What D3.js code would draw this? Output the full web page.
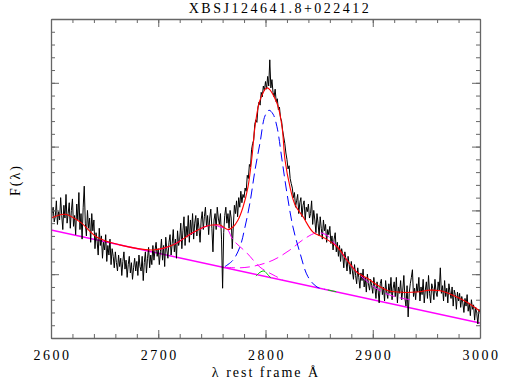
<!DOCTYPE html>
<html>
<head>
<meta charset="utf-8">
<script src="https://cdn.jsdelivr.net/npm/d3@7"></script>
<style>
  body { margin: 0; background: #fff; }
  text { font-family: "Liberation Serif", "DejaVu Serif", serif; fill: #000; }
</style>
</head>
<body>
<svg id="chart" width="510" height="382"></svg>
<script>
// observed spectrum, one value per A from 2600 to 3000
const fluxObs = [
  1.75, 1.95, 2.05, 1.82, 1.90, 2.15, 1.78, 1.98, 1.85, 2.20, 1.92, 1.70, 2.08, 1.88, 2.25, 1.80, 1.95, 2.12, 1.72, 2.00,
  2.18, 1.75, 1.92, 1.62, 2.10, 1.85, 2.28, 1.70, 1.95, 1.55, 2.05, 2.38, 1.80, 1.60, 2.00, 1.72, 1.88, 1.50, 1.95, 1.68,
  1.85, 1.40, 1.65, 1.52, 1.30, 1.72, 1.45, 1.60, 1.25, 1.50, 1.38, 1.62, 1.20, 1.45, 1.30, 1.55, 1.15, 1.40, 1.28, 1.10,
  1.35, 1.18, 1.05, 1.30, 1.12, 1.25, 0.98, 1.20, 1.35, 1.08, 1.22, 0.95, 1.15, 1.28, 1.02, 1.18, 0.92, 1.10, 1.25, 1.05,
  1.20, 0.98, 1.30, 1.12, 1.05, 1.28, 0.90, 1.18, 1.35, 1.02, 1.25, 1.42, 1.10, 1.30, 1.15, 1.45, 1.22, 1.38, 1.50, 1.28,
  1.40, 1.15, 1.35, 1.55, 1.22, 1.45, 1.12, 1.58, 1.38, 1.25, 1.50, 1.62, 1.30, 1.48, 1.70, 1.35, 1.55, 1.25, 1.68, 1.45,
  1.55, 1.80, 1.40, 1.68, 1.90, 1.45, 1.75, 1.58, 1.92, 1.50, 1.85, 1.62, 1.95, 1.55, 1.80, 1.92, 1.60, 1.88, 1.72, 1.50,
  1.85, 1.98, 1.70, 1.90, 2.05, 1.75, 1.92, 1.62, 1.88, 2.02, 1.72, 1.35, 1.85, 1.95, 1.70, 2.05, 1.88, 1.78, 1.95, 1.55,
  0.78, 1.65, 1.92, 2.05, 1.80, 1.95, 1.72, 2.00, 1.88, 1.40, 1.75, 2.08, 1.95, 2.15, 1.90, 2.20, 2.05, 2.30, 2.12, 2.25,
  2.20, 2.35, 2.30, 2.55, 2.50, 2.72, 2.68, 2.95, 3.05, 3.10, 3.35, 3.42, 3.38, 3.62, 3.70, 3.65, 3.85, 3.78, 3.95, 3.88,
  4.02, 3.90, 4.10, 3.95, 4.36, 3.92, 4.05, 3.85, 3.78, 3.90, 3.70, 3.75, 3.58, 3.62, 3.45, 3.40, 3.25, 3.15, 3.05, 2.90,
  2.80, 2.65, 2.70, 2.50, 2.42, 2.35, 2.20, 2.28, 2.05, 2.15, 2.25, 1.95, 2.12, 2.20, 1.90, 2.08, 2.15, 1.85, 2.05, 1.98,
  2.10, 1.88, 1.95, 2.15, 1.78, 2.00, 1.85, 1.65, 1.95, 1.80, 1.60, 1.90, 1.72, 1.55, 1.85, 1.68, 1.78, 1.50, 1.70, 1.62,
  1.75, 1.48, 1.60, 1.38, 1.55, 1.65, 1.35, 1.50, 1.28, 1.45, 1.20, 1.40, 1.30, 1.10, 1.35, 1.22, 1.05, 1.28, 1.15, 1.00,
  1.20, 1.05, 0.92, 1.15, 0.98, 0.85, 1.10, 0.95, 0.78, 1.02, 0.90, 1.08, 0.80, 0.95, 0.72, 1.00, 0.85, 0.75, 0.92, 0.82,
  0.70, 0.95, 0.80, 0.62, 0.88, 0.75, 0.55, 0.85, 0.92, 0.68, 0.80, 0.58, 0.90, 0.72, 0.62, 0.85, 0.70, 0.95, 0.60, 0.78,
  0.88, 0.65, 0.95, 0.55, 0.80, 0.70, 0.90, 0.60, 0.75, 0.98, 0.62, 0.50, 0.82, 0.33, 0.70, 0.85, 0.95, 1.07, 0.65, 0.78,
  0.60, 0.85, 0.72, 0.95, 0.58, 0.80, 0.68, 0.92, 0.55, 0.75, 0.88, 0.62, 0.98, 0.70, 0.55, 0.85, 0.78, 0.60, 0.92, 0.72,
  0.65, 0.88, 0.75, 1.10, 0.70, 0.82, 0.58, 0.90, 0.65, 0.78, 0.55, 0.85, 0.72, 0.62, 0.80, 0.50, 0.75, 0.68, 0.45, 0.72,
  0.58, 0.70, 0.48, 0.65, 0.55, 0.40, 0.62, 0.50, 0.68, 0.42, 0.55, 0.35, 0.60, 0.45, 0.52, 0.28, 0.48, 0.38, 0.22, 0.45,
  0.40
];
const obsWave = d3.range(2600, 3001, 1);

// fit components, [wavelength, flux]
const totalFit = [
  [2600, 1.88], [2613, 1.94], [2627, 1.82], [2643, 1.58], [2664, 1.46],
  [2695, 1.38], [2714, 1.46], [2732, 1.65], [2745.5, 1.755], [2750, 1.77],
  [2757.6, 1.77], [2765, 1.70], [2769.7, 1.74], [2774.4, 1.85], [2779, 2.05],
  [2783.7, 2.37], [2787.4, 2.84], [2790.2, 3.31], [2794.9, 3.73], [2801.4, 3.92],
  [2810.7, 3.68], [2815.4, 3.31], [2818.2, 2.79], [2822.8, 2.37], [2827.5, 2.09],
  [2835, 1.90], [2844.3, 1.66], [2853.6, 1.58], [2866.7, 1.43], [2876, 1.22],
  [2885.3, 1.03], [2894.6, 0.94], [2904, 0.83], [2913.3, 0.75], [2922.6, 0.72],
  [2941.3, 0.72], [2953.4, 0.75], [2962.7, 0.74], [2974.8, 0.67], [2987.9, 0.56],
  [3000, 0.42]
];
const broadLine = [
  [2762.2, 1.12], [2769.7, 1.22], [2776.2, 1.43], [2780.9, 1.74], [2785.5, 2.12],
  [2790.2, 2.63], [2794.9, 3.06], [2799.5, 3.48], [2803.3, 3.57], [2807, 3.51],
  [2810.7, 3.31], [2815.4, 2.79], [2820, 2.27], [2825.6, 1.74], [2832.2, 1.33],
  [2839.6, 0.96], [2848, 0.80], [2855.5, 0.765]
];
const feLeft = [
  [2701.6, 1.39], [2713.8, 1.46], [2732.4, 1.65], [2745.5, 1.755], [2752.9, 1.77],
  [2757.6, 1.74], [2764.1, 1.71], [2769.7, 1.54], [2782.8, 1.33], [2794.9, 1.11],
  [2807, 0.99], [2816.3, 0.91]
];
const feRight = [
  [2762.2, 1.11], [2776.2, 1.10], [2790.2, 1.13], [2807, 1.22], [2822.8, 1.38],
  [2835, 1.54], [2848, 1.65], [2857.3, 1.61], [2866.7, 1.43], [2876, 1.22],
  [2885.3, 1.03], [2894.6, 0.89], [2904, 0.77], [2913.3, 0.69], [2922.6, 0.64],
  [2934.7, 0.60]
];
const narrowBits = [
  [[2791.1, 0.97], [2794.9, 1.03], [2798.6, 1.05], [2802.3, 0.99], [2805.1, 0.94]],
  [[2858, 0.753], [2866, 0.725]]
];
const continuum = [[2600, 1.693], [3000, 0.235]];

const xTicks = [2600, 2700, 2800, 2900, 3000];

const svg = d3.select("#chart");
const plotLeft = 51, plotRight = 480, plotTop = 19, plotBottom = 338;

const x = d3.scaleLinear().domain([2600, 3000]).range([plotLeft, plotRight]);
const y = d3.scaleLinear().domain([0, 5]).range([plotBottom, plotTop]);

svg.append("clipPath").attr("id", "clip")
    .append("rect")
    .attr("x", plotLeft).attr("y", plotTop)
    .attr("width", plotRight - plotLeft).attr("height", plotBottom - plotTop);

const plot = svg.append("g").attr("clip-path", "url(#clip)");

const line = d3.line().x(d => x(d[0])).y(d => y(d[1]));
const smooth = d3.line().x(d => x(d[0])).y(d => y(d[1])).curve(d3.curveCatmullRom.alpha(0.5));

plot.append("path")
    .attr("d", line(continuum))
    .attr("fill", "none")
    .attr("stroke", "#ff00ff")
    .attr("stroke-width", 1.5);

plot.append("path")
    .attr("d", line(obsWave.map((w, i) => [w, fluxObs[i]])))
    .attr("fill", "none")
    .attr("stroke", "#000")
    .attr("stroke-width", 1);

[feLeft, feRight].forEach(c => {
    plot.append("path")
        .attr("d", smooth(c))
        .attr("fill", "none")
        .attr("stroke", "#ff00ff")
        .attr("stroke-width", 1)
        .attr("stroke-dasharray", "10,5");
});

plot.append("path")
    .attr("d", smooth(broadLine))
    .attr("fill", "none")
    .attr("stroke", "#0000ff")
    .attr("stroke-width", 1)
    .attr("stroke-dasharray", "10,5");

narrowBits.forEach(c => {
    plot.append("path")
        .attr("d", smooth(c))
        .attr("fill", "none")
        .attr("stroke", "#00cc00")
        .attr("stroke-width", 1);
});

plot.append("path")
    .attr("d", smooth(totalFit))
    .attr("fill", "none")
    .attr("stroke", "#ff0000")
    .attr("stroke-width", 1.1);

// frame with inward ticks on all four sides
const axisColor = "#666";
function drawAxis(axis, tx, ty, minor) {
    const g = svg.append("g").attr("transform", `translate(${tx},${ty})`).call(axis);
    g.selectAll("line").attr("stroke", axisColor);
    g.select(".domain").attr("stroke", axisColor).attr("stroke-width", 1.3);
    if (minor) g.select(".domain").remove();
    return g;
}

const xMinor = d3.range(2600, 3001, 20);
const yMinor = d3.range(0, 5.01, 0.2);
const yMajor = [0, 1, 2, 3, 4, 5];

drawAxis(d3.axisBottom(x).tickValues(xMinor).tickSize(-4).tickSizeOuter(0).tickFormat(""), 0, plotBottom, true);
drawAxis(d3.axisTop(x).tickValues(xMinor).tickSize(-4).tickSizeOuter(0).tickFormat(""), 0, plotTop, true);
drawAxis(d3.axisLeft(y).tickValues(yMinor).tickSize(-4).tickSizeOuter(0).tickFormat(""), plotLeft, 0, true);
drawAxis(d3.axisRight(y).tickValues(yMinor).tickSize(-4).tickSizeOuter(0).tickFormat(""), plotRight, 0, true);

const xb = drawAxis(d3.axisBottom(x).tickValues(xTicks).tickSize(-8).tickSizeOuter(0).tickPadding(12).tickFormat(d3.format("d")), 0, plotBottom, false);
xb.selectAll("text")
    .attr("font-size", 14)
    .attr("letter-spacing", "2.5px")
    .attr("font-family", "Liberation Serif, serif")
    .attr("fill", "#000")
    .attr("dx", "1px");
drawAxis(d3.axisTop(x).tickValues(xTicks).tickSize(-8).tickSizeOuter(0).tickFormat(""), 0, plotTop, false);
drawAxis(d3.axisLeft(y).tickValues(yMajor).tickSize(-8).tickSizeOuter(0).tickFormat(""), plotLeft, 0, false);
drawAxis(d3.axisRight(y).tickValues(yMajor).tickSize(-8).tickSizeOuter(0).tickFormat(""), plotRight, 0, false);

svg.append("text")
    .attr("x", 280).attr("y", 13)
    .attr("text-anchor", "middle")
    .attr("font-size", 14)
    .attr("letter-spacing", "2.5px")
    .text("XBSJ124641.8+022412");

svg.append("text")
    .attr("x", 266).attr("y", 377)
    .attr("text-anchor", "middle")
    .attr("font-size", 14)
    .attr("letter-spacing", "2px")
    .text("λ rest frame Å");

svg.append("text")
    .attr("transform", "translate(20,180) rotate(-90)")
    .attr("text-anchor", "middle")
    .attr("font-size", 14)
    .attr("letter-spacing", "2px")
    .text("F(λ)");
</script>
</body>
</html>
